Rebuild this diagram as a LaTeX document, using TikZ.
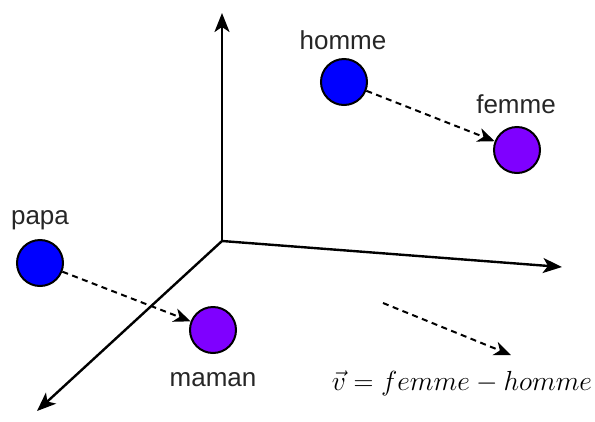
\documentclass[tikz,border=0pt]{standalone}
\usepackage{graphicx}
\usepackage{fontspec}
\setmainfont{Liberation Sans}
\usetikzlibrary{arrows.meta}
\begin{document}
\begin{tikzpicture}[x=1pt,y=-1pt,
  axis/.style={line width=2.4pt,-{Stealth[length=19pt,width=15pt,inset=5pt]}},
  vec/.style={line width=2pt,dash pattern=on 6pt off 4.5pt,-{Stealth[length=17pt,width=14pt,inset=5pt]}},
  ball/.style={circle,draw=black,line width=2pt,minimum size=46pt,inner sep=0pt},
  lab/.style={font=\fontsize{26}{30}\selectfont,text=black!85}]
\useasboundingbox (0,0) rectangle (595,421);
\coordinate (o) at (222,241);
\coordinate (ytip) at (222,13);
\coordinate (xtip) at (562,267);
\coordinate (ztip) at (37,411);
\draw[axis] (o) -- (ytip);
\draw[axis] (o) -- (xtip);
\draw[axis] (o) -- (ztip);
\node[ball,fill={rgb,255:red,0;green,0;blue,255}] (homme) at (344,82) {};
\node[ball,fill={rgb,255:red,127;green,0;blue,255}] (femme) at (517,150) {};
\node[ball,fill={rgb,255:red,0;green,0;blue,255}] (papa) at (40,263) {};
\node[ball,fill={rgb,255:red,127;green,0;blue,255}] (maman) at (213,330) {};
\node[lab] (lhomme) at (343,40) {homme};
\node[lab] (lfemme) at (516,104) {femme};
\node[lab] (lpapa) at (40,220) {papa};
\node[lab] (lmaman) at (213,380) {maman};
\draw[vec] (homme) -- (femme);
\draw[vec] (papa) -- (maman);
\coordinate (va) at (383,303);
\coordinate (vb) at (511,355);
\draw[vec] (va) -- (vb);
\node[font=\fontsize{24.88}{30}\selectfont] (formula) at (462,383) {\scalebox{1.11}{$\vec{v} = femme - homme$}};
\end{tikzpicture}
\end{document}
